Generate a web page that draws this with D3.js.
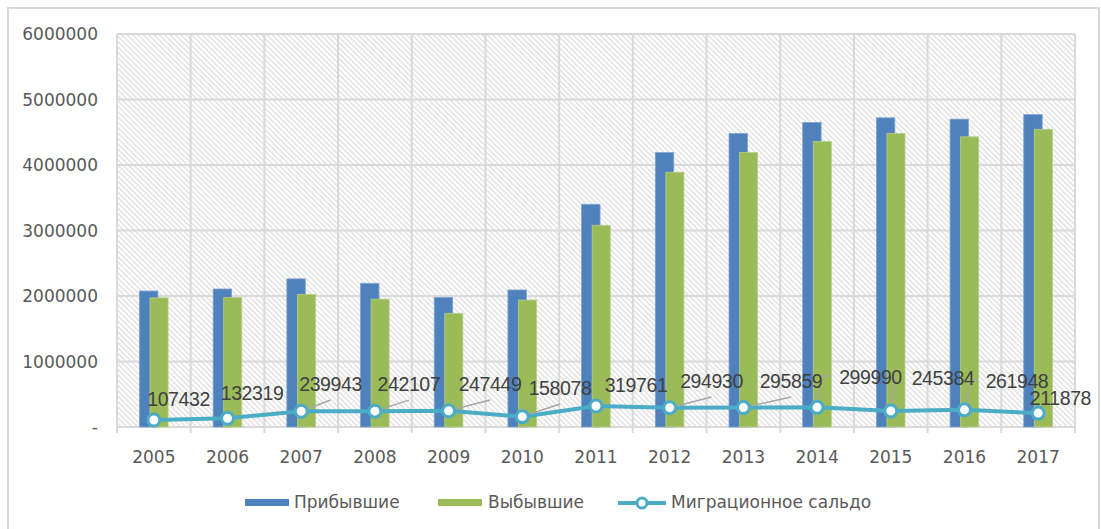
<!DOCTYPE html>
<html>
<head>
<meta charset="utf-8">
<script src="https://cdn.jsdelivr.net/npm/d3@7/dist/d3.min.js"></script>
<style>
  html, body { margin: 0; padding: 0; background: #fff; }
  svg { display: block; }
</style>
</head>
<body>
<svg id="chart" width="1101" height="529"></svg>
<script>
// ---- data ----
const years = ["2005","2006","2007","2008","2009","2010","2011","2012","2013","2014","2015","2016","2017"];
const arrived = [2076000, 2107000, 2262000, 2194000, 1978000, 2092000, 3400000, 4190000, 4480000, 4650000, 4720000, 4700000, 4770000];
const departed = [1972000, 1975000, 2024000, 1952000, 1736000, 1938000, 3080000, 3890000, 4190000, 4360000, 4480000, 4430000, 4545000];
const saldo = [107432, 132319, 239943, 242107, 247449, 158078, 319761, 294930, 295859, 299990, 245384, 261948, 211878];
const yTicks = [0, 1000000, 2000000, 3000000, 4000000, 5000000, 6000000];
const seriesNames = ["Прибывшие", "Выбывшие", "Миграционное сальдо"];

// label placement (manual, like the source chart): offset of label centre / baseline from point
const labelLayout = [
  {dx: 24.7, dy: -14,   leader: null},
  {dx: 24.5, dy: -18.3, leader: null},
  {dx: 29.3, dy: -20.3, leader: "bottom"},
  {dx: 34,   dy: -20,   leader: "bottom"},
  {dx: 41.4, dy: -19.8, leader: "bottom"},
  {dx: 37.7, dy: -21.6, leader: "bottom"},
  {dx: 40,   dy: -14,   leader: null},
  {dx: 41.8, dy: -19.7, leader: "bottom"},
  {dx: 47.6, dy: -19.6, leader: "bottom"},
  {dx: 53.4, dy: -23.4, leader: "left", g1: 16, g2: 7},
  {dx: 52.2, dy: -26,   leader: "left", g1: 15, g2: 15},
  {dx: 52.5, dy: -21.5, leader: "left", g1: 13, g2: 6},
  {dx: 22.3, dy: -8.5,  leader: null}
];

// ---- styles ----
const C = {
  blue: "#4f81bd", green: "#9bbb59", line: "#4bacc6",
  grid: "#d9d9d9", text: "#595959", leader: "#a6a6a6"
};
const axisFont = "'DejaVu Sans', sans-serif";
const labelFont = "'Liberation Sans', Arial, sans-serif";

const svg = d3.select("#chart");
const plot = {left: 117, right: 1075, top: 34, bottom: 427};

// hatch pattern
const defs = svg.append("defs");
const pat = defs.append("pattern")
  .attr("id", "hatch").attr("patternUnits", "userSpaceOnUse")
  .attr("width", 3.8).attr("height", 3.8)
  .attr("patternTransform", "rotate(-45)");
pat.append("rect").attr("width", 3.8).attr("height", 3.8).attr("fill", "#fff");
pat.append("line").attr("x1", 0.7).attr("y1", 0).attr("x2", 0.7).attr("y2", 3.8)
  .attr("stroke", "#d4d4d4").attr("stroke-width", 1.0);

// outer chart border
svg.append("rect").attr("x", 8).attr("y", 8).attr("width", 1091).attr("height", 540)
  .attr("fill", "#fff").attr("stroke", C.grid).attr("stroke-width", 2);

// scales
const x = d3.scaleBand().domain(years).range([plot.left, plot.right]).padding(0);
const y = d3.scaleLinear().domain([0, 6000000]).range([plot.bottom, plot.top]);
const bw = x.bandwidth();

// plot background
svg.append("rect").attr("x", plot.left).attr("y", plot.top)
  .attr("width", plot.right - plot.left).attr("height", plot.bottom - plot.top)
  .attr("fill", "url(#hatch)");

// horizontal gridlines
svg.append("g").selectAll("line").data(yTicks).join("line")
  .attr("x1", plot.left).attr("x2", plot.right)
  .attr("y1", d => y(d)).attr("y2", d => y(d))
  .attr("stroke", C.grid).attr("stroke-width", 2);

// vertical gridlines at category boundaries
const bounds = years.map(d => x(d)).concat([plot.right]);
svg.append("g").selectAll("line").data(bounds).join("line")
  .attr("x1", d => d).attr("x2", d => d)
  .attr("y1", plot.top).attr("y2", plot.bottom + 6)
  .attr("stroke", C.grid).attr("stroke-width", 2);

// y-axis labels
svg.append("g").selectAll("text").data(yTicks).join("text")
  .attr("x", 98).attr("y", d => y(d) + 6)
  .attr("text-anchor", "end")
  .attr("font-family", axisFont).attr("font-size", 17)
  .attr("fill", C.text)
  .text(d => d === 0 ? "-" : d3.format("d")(d));

// x-axis labels
svg.append("g").selectAll("text").data(years).join("text")
  .attr("x", d => x(d) + bw / 2).attr("y", 463)
  .attr("text-anchor", "middle")
  .attr("font-family", axisFont).attr("font-size", 17)
  .attr("fill", C.text)
  .text(d => d);

// bars
svg.append("g").selectAll("rect").data(years).join("rect")
  .attr("x", d => x(d) + bw * 0.305).attr("width", bw * 0.25)
  .attr("y", (d, i) => y(arrived[i])).attr("height", (d, i) => y(0) - y(arrived[i]))
  .attr("fill", C.blue).attr("stroke", "#7fa3d1").attr("stroke-width", 0.8);
svg.append("g").selectAll("rect").data(years).join("rect")
  .attr("x", d => x(d) + bw * 0.448).attr("width", bw * 0.245)
  .attr("y", (d, i) => y(departed[i])).attr("height", (d, i) => y(0) - y(departed[i]))
  .attr("fill", C.green).attr("stroke", "#b6cf86").attr("stroke-width", 0.8);

// line
const pts = years.map((d, i) => [x(d) + bw / 2, y(saldo[i])]);
svg.append("path").datum(pts)
  .attr("d", d3.line())
  .attr("fill", "none").attr("stroke", C.line).attr("stroke-width", 4)
  .attr("stroke-linejoin", "round");

// leader lines + labels
const labelW = 66;
const lg = svg.append("g");
pts.forEach((p, i) => {
  const L = labelLayout[i];
  const cx = p[0] + L.dx, by = p[1] + L.dy;
  const left = cx - labelW / 2;
  if (L.leader === "bottom") {
    lg.append("line").attr("x1", p[0]).attr("y1", p[1]).attr("x2", cx).attr("y2", by + 9)
      .attr("stroke", C.leader).attr("stroke-width", 1.5);
  } else if (L.leader === "left") {
    const midY = by - 8;
    lg.append("polyline")
      .attr("points", [[p[0], p[1]], [left - L.g1, midY], [left - L.g2, midY]].map(q => q.join(",")).join(" "))
      .attr("fill", "none").attr("stroke", C.leader).attr("stroke-width", 1.5);
  }
});

// markers
svg.append("g").selectAll("circle").data(pts).join("circle")
  .attr("cx", d => d[0]).attr("cy", d => d[1]).attr("r", 6)
  .attr("fill", "#fff").attr("stroke", C.line).attr("stroke-width", 3);

// data labels
svg.append("g").selectAll("text").data(pts).join("text")
  .attr("x", (d, i) => d[0] + labelLayout[i].dx)
  .attr("y", (d, i) => d[1] + labelLayout[i].dy)
  .attr("text-anchor", "middle")
  .attr("font-family", labelFont).attr("font-size", 19.5)
  .attr("letter-spacing", -0.4)
  .attr("fill", "#404040")
  .text((d, i) => saldo[i]);

// legend
const leg = svg.append("g");
leg.append("rect").attr("x", 245).attr("y", 499).attr("width", 44).attr("height", 7).attr("fill", C.blue);
leg.append("text").attr("x", 294).attr("y", 508).text(seriesNames[0]);
leg.append("rect").attr("x", 438).attr("y", 499).attr("width", 44).attr("height", 7).attr("fill", C.green);
leg.append("text").attr("x", 488).attr("y", 508).text(seriesNames[1]);
leg.append("line").attr("x1", 618).attr("x2", 666).attr("y1", 503).attr("y2", 503)
  .attr("stroke", C.line).attr("stroke-width", 4);
leg.append("circle").attr("cx", 642).attr("cy", 503).attr("r", 5)
  .attr("fill", "#fff").attr("stroke", C.line).attr("stroke-width", 3);
leg.append("text").attr("x", 671).attr("y", 508).text(seriesNames[2]);
leg.selectAll("text").attr("font-family", axisFont).attr("font-size", 17).attr("fill", C.text);
</script>
</body>
</html>
